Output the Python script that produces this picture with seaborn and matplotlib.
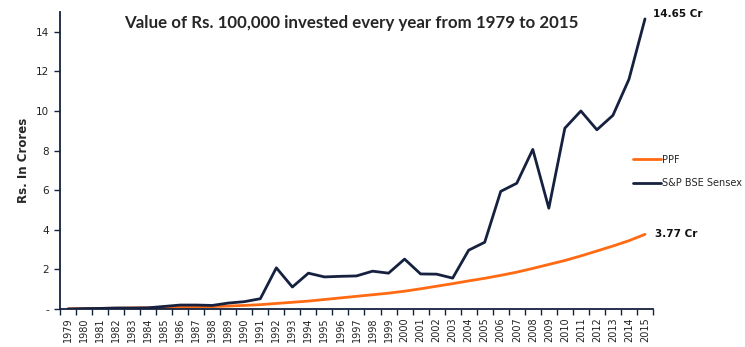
import matplotlib
matplotlib.use("Agg")
import matplotlib.pyplot as plt
import seaborn as sns
import pandas as pd
import numpy as np
from matplotlib.ticker import FixedLocator
from matplotlib.lines import Line2D

years = list(range(1979, 2016))
sensex = [0.0, 0.02, 0.03, 0.05, 0.05, 0.06, 0.13, 0.2, 0.2, 0.18, 0.3, 0.37,
          0.52, 2.08, 1.11, 1.81, 1.62, 1.65, 1.67, 1.91, 1.81, 2.52, 1.77, 1.76,
          1.56, 2.97, 3.37, 5.94, 6.35, 8.06, 5.09, 9.13, 10.0, 9.05, 9.78, 11.6, 14.65]
ppf = [0.01, 0.02, 0.03, 0.04, 0.05, 0.06, 0.07, 0.09, 0.1, 0.12, 0.15, 0.18,
       0.22, 0.28, 0.34, 0.4, 0.48, 0.56, 0.64, 0.72, 0.8, 0.9, 1.02, 1.15,
       1.28, 1.42, 1.55, 1.7, 1.86, 2.05, 2.25, 2.45, 2.68, 2.93, 3.18, 3.45, 3.77]
series_names = ["PPF", "S&P BSE Sensex"]
end_labels = ["3.77 Cr", "14.65 Cr"]
title = "Value of Rs. 100,000 invested every year from 1979 to 2015"
ylabel = "Rs. In Crores"

navy = "#15213f"
orange = "#ff6a13"

sns.set_theme(style="white")
plt.rcParams['font.family'] = ['DejaVu Sans']

df = pd.DataFrame({
    "pos": list(range(len(years))) * 2,
    "value": ppf + sensex,
    "series": [series_names[0]] * len(years) + [series_names[1]] * len(years),
})

fig = plt.figure(figsize=(7.45, 3.47), dpi=100)
ax = fig.add_axes([0.0805, 0.1095, 0.796, 0.856])
sns.lineplot(data=df, x="pos", y="value", hue="series",
             palette={series_names[0]: orange, series_names[1]: navy},
             linewidth=2.0, ax=ax, legend=False)

ax.set_xlim(-0.5, len(years) - 0.5)
ax.set_ylim(0, 15)
ax.set_yticks([0, 2, 4, 6, 8, 10, 12, 14])
ax.set_yticklabels(["-", "2", "4", "6", "8", "10", "12", "14"], fontsize=7.5, color="#222222")
ax.set_xticks(range(len(years)))
ax.set_xticklabels([str(y) for y in years], rotation=90, fontsize=7, color="#222222")
ax.xaxis.set_minor_locator(FixedLocator(np.arange(-0.5, len(years), 1.0)))
ax.tick_params(axis="x", which="major", length=0, pad=6)
ax.tick_params(axis="x", which="minor", length=4, width=1, color=navy, direction="out", bottom=True)
ax.tick_params(axis="y", which="major", length=4, width=1, color=navy, direction="out", left=True, pad=4)
ax.set_xlabel("")
ax.set_ylabel(ylabel, fontsize=8.5, fontweight="bold", labelpad=4)

for s in ["top", "right"]:
    ax.spines[s].set_visible(False)
ax.spines["left"].set_color(navy)
ax.spines["left"].set_linewidth(1.3)
ax.spines["bottom"].set_color(navy)
ax.spines["bottom"].set_linewidth(1.3)

fig.text(0.472, 0.935, title, ha="center", va="center", fontsize=12.2,
         fontweight="bold", family=["Lato", "DejaVu Sans"])

ax.text(len(years) - 1 + 0.5, sensex[-1], end_labels[1], fontsize=7.5, fontweight="bold",
        ha="left", va="bottom", color="#111111")
ax.text(len(years) - 1 + 0.6, ppf[-1], end_labels[0], fontsize=7.5, fontweight="bold",
        ha="left", va="center", color="#111111")

handles = [Line2D([], [], color=orange, lw=2), Line2D([], [], color=navy, lw=2)]
fig.legend(handles, series_names, loc="upper left", bbox_to_anchor=(0.845, 0.565),
           frameon=False, fontsize=7, handlelength=2.8, handletextpad=0.1,
           labelspacing=1.35, borderaxespad=0)

fig.savefig("out.png", dpi=100, facecolor="white")
